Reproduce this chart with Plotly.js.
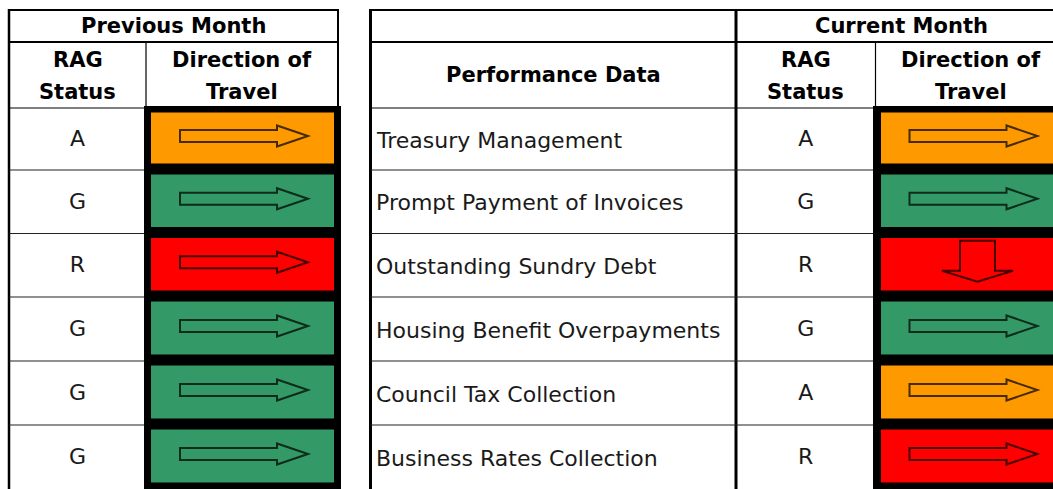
<!DOCTYPE html>
<html>
<head>
<meta charset="utf-8">
<script src="https://cdn.plot.ly/plotly-3.0.1.min.js"></script>
<style>
  html, body { margin: 0; padding: 0; background: #ffffff; }
  #chart { width: 1053px; height: 489px; }
</style>
</head>
<body>
<div id="chart"></div>
<script>
// ---------------- DATA ----------------
const metrics = [
  "Treasury Management",
  "Prompt Payment of Invoices",
  "Outstanding Sundry Debt",
  "Housing Benefit Overpayments",
  "Council Tax Collection",
  "Business Rates Collection"
];
const prevRag = ["A", "G", "R", "G", "G", "G"];
const prevDirection = ["right", "right", "right", "right", "right", "right"];
const currRag = ["A", "G", "R", "G", "A", "R"];
const currDirection = ["right", "right", "down", "right", "right", "right"];
const groupTitles = ["Previous Month", "Current Month"];
const columnTitles = ["RAG", "Status", "Direction of", "Travel", "Performance Data"];

// ---------------- STYLE / LAYOUT ----------------
const ragColour = { A: "#FF9900", G: "#339966", R: "#FF0000" };
const rowEdges = [108, 170, 233.5, 297, 361, 425, 489];
const L = { left: 9, split: 146, right: 338, frameL: 144, frameR: 341 };
const R = { left: 370.5, split: 736, split2: 875.5, right: 1067, frameL: 873, frameR: 1070 };
const topY = 10, midY = 42, headY = 108, frameTop = 106;

const shapes = [];
const annotations = [];
function line(x0, y0, x1, y1, w, c) {
  shapes.push({ type: "line", xref: "x", yref: "y", x0, y0, x1, y1,
    line: { color: c || "#000", width: w } });
}
function rect(x0, y0, x1, y1, fill) {
  shapes.push({ type: "rect", xref: "x", yref: "y", x0, y0, x1, y1,
    fillcolor: fill, line: { width: 0 } });
}
function arrow(colLeft, yc, dir) {
  let p;
  if (dir === "right") {
    const ya = yc - 3;
    const a = colLeft + 34, b = colLeft + 131, t = colLeft + 162;
    p = `M ${a},${ya - 6} L ${b},${ya - 6} L ${b},${ya - 10.5} L ${t},${ya} ` +
        `L ${b},${ya + 10.5} L ${b},${ya + 6} L ${a},${ya + 6} Z`;
  } else {
    const cx = colLeft + 102;
    p = `M ${cx - 17.5},${yc - 24.5} L ${cx + 17.5},${yc - 24.5} L ${cx + 17.5},${yc + 5.5} ` +
        `L ${cx + 35.5},${yc + 5.5} L ${cx},${yc + 16.5} L ${cx - 35.5},${yc + 5.5} ` +
        `L ${cx - 17.5},${yc + 5.5} Z`;
  }
  shapes.push({ type: "path", xref: "x", yref: "y", path: p,
    fillcolor: "rgba(0,0,0,0)", line: { color: "rgba(0,0,0,0.72)", width: 2 } });
}
function label(x, y, text, opts) {
  annotations.push(Object.assign({
    xref: "x", yref: "y", x, y, text, showarrow: false,
    xanchor: "center", yanchor: "middle",
    font: { family: "DejaVu Sans", size: 22, color: "#1a1a1a" }
  }, opts || {}));
}
const hdrFont = { family: "DejaVu Sans", size: 21, color: "#000" };

// ---- left table (previous month) ----
rect(L.frameL, frameTop, L.frameR, 489, "#000");
line(L.left, topY, L.right, topY, 2);
line(L.left, midY, L.right, midY, 2);
line(L.left, topY - 1, L.left, 489, 2.5);
line(L.right, topY - 1, L.right, frameTop, 2);
line(L.split, midY, L.split, frameTop, 1.2);
line(L.left, headY, L.frameL, headY, 1.2);

// ---- right table (current month) ----
rect(R.frameL, frameTop, R.frameR, 489, "#000");
line(R.left, topY, 1053, topY, 2);
line(R.left, midY, 1053, midY, 2);
line(R.left, topY - 1, R.left, 489, 3);
line(R.split, topY - 1, R.split, 489, 3);
line(R.split2, midY, R.split2, frameTop, 1.2);
line(R.left, headY, R.frameL, headY, 1.2);

// rows
metrics.forEach((m, i) => {
  const y0 = rowEdges[i], y1 = rowEdges[i + 1];
  const yc = (y0 + y1) / 2;
  if (i > 0) {
    line(L.left, y0, L.frameL, y0, 1.2, "#222");
    line(R.left, y0, R.frameL, y0, 1.2, "#222");
  }
  rect(L.split + 5, y0 + 4.5, L.frameR - 7, y1 - 6.5, ragColour[prevRag[i]]);
  rect(R.split2 + 5.5, y0 + 4.5, R.frameR - 7, y1 - 6.5, ragColour[currRag[i]]);
  arrow(L.split, yc, prevDirection[i]);
  arrow(R.split2, yc, currDirection[i]);
  label(374, yc + 1, m, { xanchor: "left" });
});

// headers
label((L.left + L.right) / 2, 26, "<b>" + groupTitles[0] + "</b>", { font: hdrFont });
label((R.split + R.right) / 2, 26, "<b>" + groupTitles[1] + "</b>", { font: hdrFont });
[[(L.left + L.split) / 2, (L.split + L.right) / 2], [(R.split + R.split2) / 2, (R.split2 + R.right) / 2]]
  .forEach(([c1, c2]) => {
    label(c1, 60, "<b>" + columnTitles[0] + "</b>", { font: hdrFont });
    label(c1, 91.5, "<b>" + columnTitles[1] + "</b>", { font: hdrFont });
    label(c2, 60, "<b>" + columnTitles[2] + "</b>", { font: hdrFont });
    label(c2, 91.5, "<b>" + columnTitles[3] + "</b>", { font: hdrFont });
  });
label((R.left + R.split) / 2, 75, "<b>" + columnTitles[4] + "</b>", { font: hdrFont });

// RAG letters as text traces through the axes
const rowCentres = metrics.map((_, i) => (rowEdges[i] + rowEdges[i + 1]) / 2 + 1.5);
const ragFont = { family: "DejaVu Sans", size: 22, color: "#1a1a1a" };
const traces = [
  { type: "scatter", mode: "text", x: prevRag.map(() => (L.left + L.split) / 2),
    y: rowCentres, text: prevRag, textposition: "middle center",
    textfont: ragFont, hoverinfo: "skip", cliponaxis: false },
  { type: "scatter", mode: "text", x: currRag.map(() => (R.split + R.split2) / 2),
    y: rowCentres, text: currRag, textposition: "middle center",
    textfont: ragFont, hoverinfo: "skip", cliponaxis: false }
];

const layout = {
  width: 1053, height: 489,
  margin: { l: 0, r: 0, t: 0, b: 0, pad: 0 },
  paper_bgcolor: "#ffffff", plot_bgcolor: "#ffffff",
  showlegend: false,
  xaxis: { range: [0, 1053], visible: false, fixedrange: true },
  yaxis: { range: [489, 0], visible: false, fixedrange: true },
  shapes, annotations
};
Plotly.newPlot("chart", traces, layout, { staticPlot: true, displayModeBar: false });
</script>
</body>
</html>
